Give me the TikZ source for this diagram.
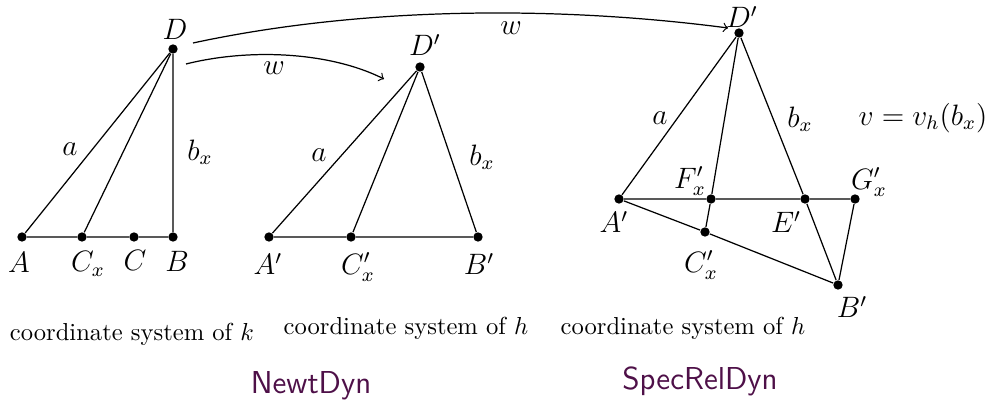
\documentclass[tikz,border=0pt]{standalone}
\usepackage{xcolor}
\usepackage{tikz}
\usetikzlibrary{arrows, positioning, calc}
\definecolor{dynpurple}{RGB}{78, 16, 72}

\tikzset{
    pt/.style={circle, fill=black, inner sep=0pt, minimum size=3.8pt},
    lbl/.style={inner sep=1pt, font=\large},
    edge/.style={line width=0.5pt},
    warrow/.style={->, line width=0.5pt},
    cstext/.style={inner sep=0pt},
    dynname/.style={inner sep=0pt, text=dynpurple, font=\fontsize{12.9}{15}\sffamily}
}

\begin{document}
\begin{tikzpicture}[x=0.01429cm, y=-0.01429cm]
    \useasboundingbox (0,0) rectangle (993,410);

    % Newtonian picture, coordinate system of k
    \node[pt] (D) at (173,49) {};
    \node[pt] (A) at (22,237) {};
    \node[pt] (Cx) at (82,237) {};
    \node[pt] (C) at (134,237) {};
    \node[pt] (B) at (173,237) {};
    \draw[edge] (A) -- (Cx) -- (C) -- (B) -- (D) -- (A);
    \draw[edge] (Cx) -- (D);
    \node[lbl] (labD) at (175,29) {$D$};
    \node[lbl] (labA) at (19,262) {$A$};
    \node[lbl] (labCx) at (88,264) {$C_x$};
    \node[lbl] (labC) at (135,260) {$C$};
    \node[lbl] (labB) at (177,261) {$B$};
    \node[lbl] (laba) at (70,149) {$a$};
    \node[lbl] (labbx) at (200,152) {$b_x$};

    % Newtonian picture, coordinate system of h
    \node[pt] (Dn) at (420,67) {};
    \node[pt] (An) at (269,237) {};
    \node[pt] (Cxn) at (351,237) {};
    \node[pt] (Bn) at (478,237) {};
    \draw[edge] (An) -- (Cxn) -- (Bn) -- (Dn) -- (An);
    \draw[edge] (Cxn) -- (Dn);
    \node[lbl] (labDn) at (425,45) {$D'$};
    \node[lbl] (labAn) at (268,264) {$A'$};
    \node[lbl] (labCxn) at (358,267) {$C'_x$};
    \node[lbl] (labBn) at (479,264) {$B'$};
    \node[lbl] (laban) at (319,155) {$a$};
    \node[lbl] (labbxn) at (482,157) {$b_x$};

    % relativistic picture, coordinate system of h
    \node[pt] (Dr) at (739,33) {};
    \node[pt] (Ar) at (619,199) {};
    \node[pt] (Fr) at (711,199) {};
    \node[pt] (Er) at (805,199) {};
    \node[pt] (Gr) at (855,199) {};
    \node[pt] (Cr) at (705,232) {};
    \node[pt] (Br) at (838,285) {};
    \draw[edge] (Ar) -- (Dr) -- (Fr) -- (Cr);
    \draw[edge] (Dr) -- (Er) -- (Br);
    \draw[edge] (Ar) -- (Fr) -- (Er) -- (Gr) -- (Br) -- (Cr) -- (Ar);
    \node[lbl] (labDr) at (742,17) {$D'$};
    \node[lbl] (labAr) at (614,222) {$A'$};
    \node[lbl] (labFr) at (690,181) {$F'_x$};
    \node[lbl] (labEr) at (786,222) {$E'$};
    \node[lbl] (labGr) at (869,182) {$G'_x$};
    \node[lbl] (labCr) at (701,265) {$C'_x$};
    \node[lbl] (labBr) at (852,307) {$B'$};
    \node[lbl] (labar) at (660,118) {$a$};
    \node[lbl] (labbxr) at (800,119) {$b_x$};
    \node[lbl] (vel) at (923,118) {$v=v_h(b_x)$};

    % the maps w
    \coordinate (wlongs) at (193,43);
    \coordinate (wlonge) at (728,28);
    \coordinate (wshorts) at (186,64);
    \coordinate (wshorte) at (384,79);
    \draw[warrow] (wlongs) .. controls (365,6) and (560,6) .. (wlonge);
    \draw[warrow] (wshorts) .. controls (250,48) and (330,52) .. (wshorte);
    \node[lbl] (wlong) at (511,28) {$w$};
    \node[lbl] (wshort) at (274,68) {$w$};

    % coordinate systems
    \node[cstext] (csk) at (132,334) {coordinate system of $k$};
    \node[cstext] (csh) at (406,328) {coordinate system of $h$};
    \node[cstext] (cshr) at (683,328) {coordinate system of $h$};

    \node[dynname] (newt) at (311,386) {NewtDyn};
    \node[dynname] (specrel) at (700,381) {SpecRelDyn};
\end{tikzpicture}
\end{document}
